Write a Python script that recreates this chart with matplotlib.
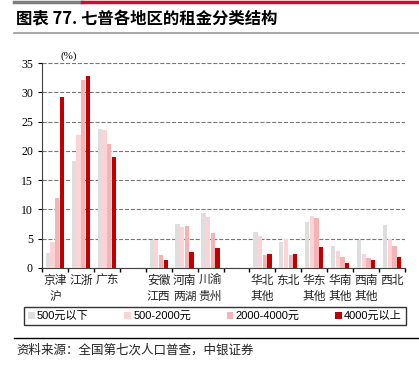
import numpy as np
import matplotlib.pyplot as plt
from matplotlib.lines import Line2D

plt.rcParams['font.family'] = ['Liberation Sans', 'Noto Sans CJK SC']

# 14 slots, two blank separators
regions = ['京津\n沪', '江浙', '广东', '', '安徽\n江西', '河南\n两湖', '川渝\n贵州', '',
           '华北\n其他', '东北', '华东\n其他', '华南\n其他', '西南\n其他', '西北']
series = ['500元以下', '500-2000元', '2000-4000元', '4000元以上']
below_500 = [2.5, 18.2, 23.8, np.nan, 4.7, 7.5, 9.4, np.nan, 6.1, 4.5, 7.8, 3.7, 4.8, 7.4]
r500_2000 = [4.4, 22.7, 23.6, np.nan, 4.7, 7.0, 8.7, np.nan, 5.5, 5.0, 8.8, 2.9, 2.4, 5.0]
r2000_4000 = [12.0, 32.1, 21.2, np.nan, 2.3, 7.1, 5.9, np.nan, 2.3, 2.2, 8.5, 1.8, 1.7, 3.7]
above_4000 = [29.2, 32.8, 19.0, np.nan, 1.3, 2.7, 3.5, np.nan, 2.4, 2.4, 3.6, 0.8, 1.3, 1.8]
values = [below_500, r500_2000, r2000_4000, above_4000]
colors = ['#dedede', '#fdd3d6', '#f5b3b4', '#c00000']

fig = plt.figure(figsize=(4.19, 3.66), dpi=100)

# header decoration
fig.add_artist(Line2D([14/419, 82/419], [1 - 1.5/366] * 2, color='#7f7f7f', lw=2.5))
fig.add_artist(Line2D([82/419, 1.0], [1 - 1.5/366] * 2, color='#c8102e', lw=2.5))
fig.text(16/419, 1 - 19/366, '图表 77. 七普各地区的租金分类结构', fontsize=11.8, fontweight='bold',
         va='center', ha='left', family=['Noto Sans CJK SC'])
fig.add_artist(Line2D([14/419, 1.0], [1 - 33/366] * 2, color='#999999', lw=1.2))

ax = fig.add_axes([42/419, 1 - 268/366, 363/419, 205/366])
x = np.arange(len(regions))
w = 0.165
for i, (vals, c, name) in enumerate(zip(values, colors, series)):
    ax.bar(x + (i - 1.5) * (w + 0.015), vals, width=w, color=c, label=name, zorder=3)

ax.set_xlim(-0.5, len(regions) - 0.5)
ax.set_ylim(0, 35)
ax.set_yticks(range(0, 36, 5))
ax.set_xticks(np.arange(-0.5, len(regions), 1.0))
ax.set_xticklabels([])
ax.set_xticks(x, minor=True)
ax.set_xticklabels(regions, minor=True, fontsize=8.5, family=['Noto Sans CJK SC'], linespacing=1.3,
                   color='#222222')
ax.tick_params(axis='x', which='minor', length=0, pad=4)
ax.tick_params(axis='x', which='major', length=3, direction='out', width=1)
ax.tick_params(axis='y', length=3, direction='out', labelsize=8.5)
for lab in ax.get_yticklabels():
    lab.set_family('Liberation Serif')
ax.grid(axis='y', ls='--', color='#777777', lw=0.8, zorder=0)
for s in ['top', 'right']:
    ax.spines[s].set_visible(False)
ax.spines['left'].set_color('#404040')
ax.spines['bottom'].set_color('#404040')
ax.text(0.05, 1.01, '(%)', transform=ax.transAxes, fontsize=8, family='Liberation Serif',
        ha='left', va='bottom')

fig.legend(loc='center', bbox_to_anchor=(215/419, 1 - 316/366), ncol=4, fontsize=8,
           frameon=True, fancybox=False, edgecolor='black', handlelength=0.6, handleheight=0.6,
           handletextpad=0.2, columnspacing=3.2, borderpad=0.35)

fig.add_artist(Line2D([14/419, 1.0], [1 - 338/366] * 2, color='black', lw=1))
fig.text(16/419, 1 - 350/366, '资料来源：全国第七次人口普查，中银证券', fontsize=9, style='italic',
         va='center', ha='left', family=['Noto Sans CJK SC'], color='#222222')

fig.savefig('out.png', dpi=100)
